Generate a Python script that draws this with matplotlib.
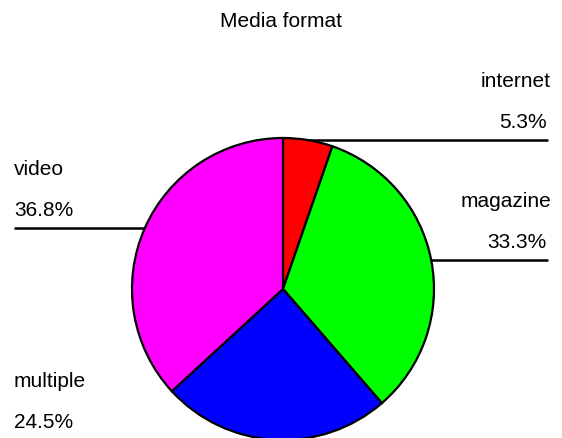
import numpy as np
import matplotlib
matplotlib.use('Agg')
import matplotlib.pyplot as plt

# data
labels = ['internet', 'magazine', 'multiple', 'video']
values = [5.3, 33.3, 24.5, 36.8]
colors = ['#ff0000', '#00ff00', '#0000ff', '#ff00ff']
title = 'Media format'

plt.rcParams['font.family'] = ['Liberation Sans', 'DejaVu Sans']

W, H = 562, 438
fig = plt.figure(figsize=(W / 100, H / 100), dpi=100)
ax = fig.add_axes([0, 0, 1, 1])

cx, cy, r = 283, H - 289, 151
wedges, _ = ax.pie(values, colors=colors, startangle=90, counterclock=False,
                   center=(cx, cy), radius=r, frame=True,
                   wedgeprops=dict(edgecolor='black', linewidth=1.6))
ax.set_xlim(0, W)
ax.set_ylim(0, H)
ax.set_aspect('equal')
ax.axis('off')

# label line from the wedge edge out to the side, percent and name above it
for w, lab, v in zip(wedges, labels, values):
    mid = np.deg2rad((w.theta1 + w.theta2) / 2)
    ex, ey = cx + r * np.cos(mid), cy + r * np.sin(mid)
    if np.cos(mid) >= 0:
        x_end, ha, xt, xn = 548, 'right', 547, 551
    else:
        x_end, ha, xt, xn = 14, 'left', 14, 14
    ax.plot([ex, x_end], [ey, ey], color='black', lw=1.8, solid_capstyle='butt',
            clip_on=False)
    ax.text(xt, ey + 12, f'{v:.1f}%', ha=ha, va='baseline', fontsize=15)
    ax.text(xn, ey + 53, lab, ha=ha, va='baseline', fontsize=15)

ax.text(W / 2, H - 27, title, ha='center', va='baseline', fontsize=15)

fig.savefig('out.png', dpi=100)
